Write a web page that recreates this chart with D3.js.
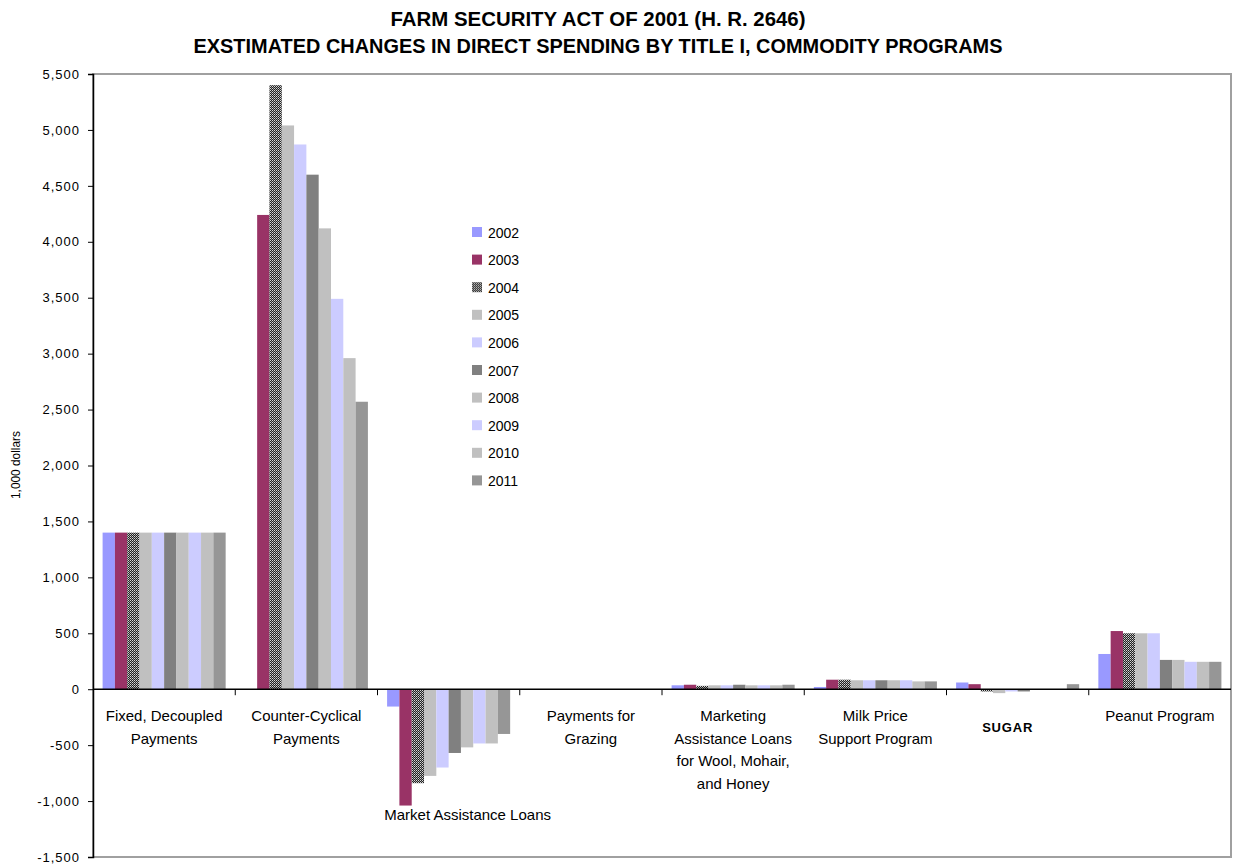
<!DOCTYPE html>
<html>
<head>
<meta charset="utf-8">
<script src="https://cdn.jsdelivr.net/npm/d3@7"></script>
<style>
  html, body { margin: 0; padding: 0; background: #fff; }
  svg { display: block; font-family: "Liberation Sans", Arial, sans-serif; }
</style>
</head>
<body>
<svg id="chart" width="1233" height="865"></svg>
<script>
// Title I commodity programs, estimated change in direct spending (1,000 dollars)
const categories = [
  "Fixed, Decoupled Payments",
  "Counter-Cyclical Payments",
  "Market Assistance Loans",
  "Payments for Grazing",
  "Marketing Assistance Loans for Wool, Mohair, and Honey",
  "Milk Price Support Program",
  "SUGAR",
  "Peanut Program"
];
const categoryLines = [
  ["Fixed, Decoupled", "Payments"],
  ["Counter-Cyclical", "Payments"],
  ["Market Assistance Loans"],
  ["Payments for", "Grazing"],
  ["Marketing", "Assistance Loans", "for Wool, Mohair,", "and Honey"],
  ["Milk Price", "Support Program"],
  ["SUGAR"],
  ["Peanut Program"]
];
const years = ["2002", "2003", "2004", "2005", "2006", "2007", "2008", "2009", "2010", "2011"];

const y2002 = [1400,    0,  -155, 0, 35, 20,  60, 315];
const y2003 = [1400, 4240, -1040, 0, 40, 85,  45, 520];
const y2004 = [1400, 5400,  -840, 0, 30, 85, -20, 500];
const y2005 = [1400, 5040,  -775, 0, 35, 80, -35, 500];
const y2006 = [1400, 4870,  -700, 0, 35, 80, -20, 500];
const y2007 = [1400, 4600,  -570, 0, 40, 80, -20, 262];
const y2008 = [1400, 4120,  -520, 0, 35, 80,   0, 262];
const y2009 = [1400, 3490,  -485, 0, 35, 80,   0, 245];
const y2010 = [1400, 2960,  -485, 0, 35, 70,   0, 245];
const y2011 = [1400, 2570,  -400, 0, 40, 70,  45, 245];
const seriesValues = [y2002, y2003, y2004, y2005, y2006, y2007, y2008, y2009, y2010, y2011];

const yTicks = [-1500, -1000, -500, 0, 500, 1000, 1500, 2000, 2500, 3000, 3500, 4000, 4500, 5000, 5500];

const titleLines = [
  "FARM SECURITY ACT OF 2001 (H. R. 2646)",
  "EXSTIMATED CHANGES IN DIRECT SPENDING BY TITLE I, COMMODITY PROGRAMS"
];
const yTitle = "1,000 dollars";

// fills per year; 2004 uses a dotted pattern
const fills = ["#9999ff", "#993366", "url(#dots)", "#c0c0c0", "#ccccff", "#808080", "#c0c0c0", "#ccccff", "#c0c0c0", "#969696"];

const svg = d3.select("#chart");
const plot = { left: 93, right: 1231, top: 74, bottom: 857 };

const defs = svg.append("defs");
const pat = defs.append("pattern")
  .attr("id", "dots").attr("patternUnits", "userSpaceOnUse")
  .attr("width", 2).attr("height", 2);
pat.append("rect").attr("width", 2).attr("height", 2).attr("fill", "#222");
pat.append("rect").attr("x", 0).attr("y", 0).attr("width", 1).attr("height", 1).attr("fill", "#d8d8d8");
pat.append("rect").attr("x", 1).attr("y", 1).attr("width", 1).attr("height", 1).attr("fill", "#9a9a9a");

const y = d3.scaleLinear().domain([-1500, 5500]).range([plot.bottom, plot.top]);
const x0 = d3.scaleBand().domain(categories).range([plot.left, plot.right]).padding(0);
const x1 = d3.scaleBand().domain(years).range([0, x0.bandwidth()]).paddingInner(0).paddingOuter(0.78);

// plot area frame
svg.append("rect")
  .attr("x", plot.left).attr("y", plot.top)
  .attr("width", plot.right - plot.left).attr("height", plot.bottom - plot.top)
  .attr("fill", "none").attr("stroke", "#a0a0a0").attr("stroke-width", 2);

// bars
const groups = svg.append("g").selectAll("g")
  .data(years)
  .join("g")
  .attr("fill", (d, i) => fills[i]);

groups.selectAll("rect")
  .data((yr, i) => categories.map((c, j) => ({ cat: c, yr: yr, v: seriesValues[i][j] })))
  .join("rect")
  .filter(d => d.v !== 0)
  .attr("x", d => x0(d.cat) + x1(d.yr))
  .attr("width", x1.bandwidth())
  .attr("y", d => y(Math.max(0, d.v)))
  .attr("height", d => Math.abs(y(d.v) - y(0)));

// y axis, plain hyphen for negatives
const fmt = d3.format(",");
const yAxis = svg.append("g")
  .attr("transform", `translate(${plot.left},0)`)
  .call(d3.axisLeft(y).tickValues(yTicks)
    .tickFormat(d => fmt(d).replace("\u2212", "-"))
    .tickSize(5).tickPadding(8));
yAxis.select(".domain").attr("stroke", "#000").attr("stroke-width", 1.5);
yAxis.selectAll(".tick line").attr("stroke", "#000");
yAxis.selectAll(".tick text")
  .attr("font-size", 13).attr("letter-spacing", 1).attr("fill", "#000")
  .attr("font-family", "'Liberation Sans', Arial, sans-serif");

// zero line with category ticks
const boundaries = categories.map(c => x0(c)).concat([plot.right]);
const xAxis = svg.append("g");
xAxis.append("line")
  .attr("x1", plot.left).attr("x2", plot.right)
  .attr("y1", y(0)).attr("y2", y(0))
  .attr("stroke", "#000").attr("stroke-width", 1.5);
xAxis.selectAll("line.tk")
  .data(boundaries.slice(1, -1))
  .join("line").attr("class", "tk")
  .attr("x1", d => d).attr("x2", d => d)
  .attr("y1", y(0)).attr("y2", y(0) + 6)
  .attr("stroke", "#000");

// category labels
const labelG = svg.append("g").attr("font-size", 15).attr("fill", "#000");
categoryLines.forEach((lines, i) => {
  const cx = x0(categories[i]) + x0.bandwidth() / 2;
  const t = labelG.append("text").attr("text-anchor", "middle");
  let baseY = 721, dx = 0;
  if (categories[i] === "Market Assistance Loans") { baseY = 820; dx = 19; }
  if (categories[i] === "SUGAR") {
    baseY = 732; dx = -10;
    t.attr("font-weight", "bold").attr("font-size", 13).attr("letter-spacing", 0.8);
  }
  lines.forEach((ln, k) => {
    t.append("tspan").attr("x", cx + dx).attr("y", baseY + k * 22.6).text(ln);
  });
});

// y title
svg.append("text")
  .attr("transform", "translate(20,465) rotate(-90)")
  .attr("text-anchor", "middle")
  .attr("font-size", 13)
  .attr("textLength", 68).attr("lengthAdjust", "spacingAndGlyphs")
  .attr("fill", "#000")
  .text(yTitle);

// title, condensed bold
const titleWidths = [415, 809];
titleLines.forEach((t, i) => {
  svg.append("text")
    .attr("x", 598).attr("y", 26 + i * 27)
    .attr("text-anchor", "middle")
    .attr("font-size", 21).attr("font-weight", "bold")
    .attr("font-family", "'Liberation Sans Narrow', 'Arial Narrow', 'Liberation Sans', Arial, sans-serif")
    .attr("textLength", titleWidths[i]).attr("lengthAdjust", "spacingAndGlyphs")
    .attr("fill", "#000")
    .text(t);
});

// legend
const legend = svg.append("g").attr("transform", "translate(472,232)");
const items = legend.selectAll("g").data(years).join("g")
  .attr("transform", (d, i) => `translate(0,${i * 27.6})`);
items.append("rect")
  .attr("x", 0).attr("y", -5).attr("width", 10).attr("height", 10)
  .attr("fill", (d, i) => fills[i]);
items.append("text")
  .attr("x", 16).attr("y", 5.5)
  .attr("font-size", 14).attr("fill", "#000")
  .text(d => d);
</script>
</body>
</html>
